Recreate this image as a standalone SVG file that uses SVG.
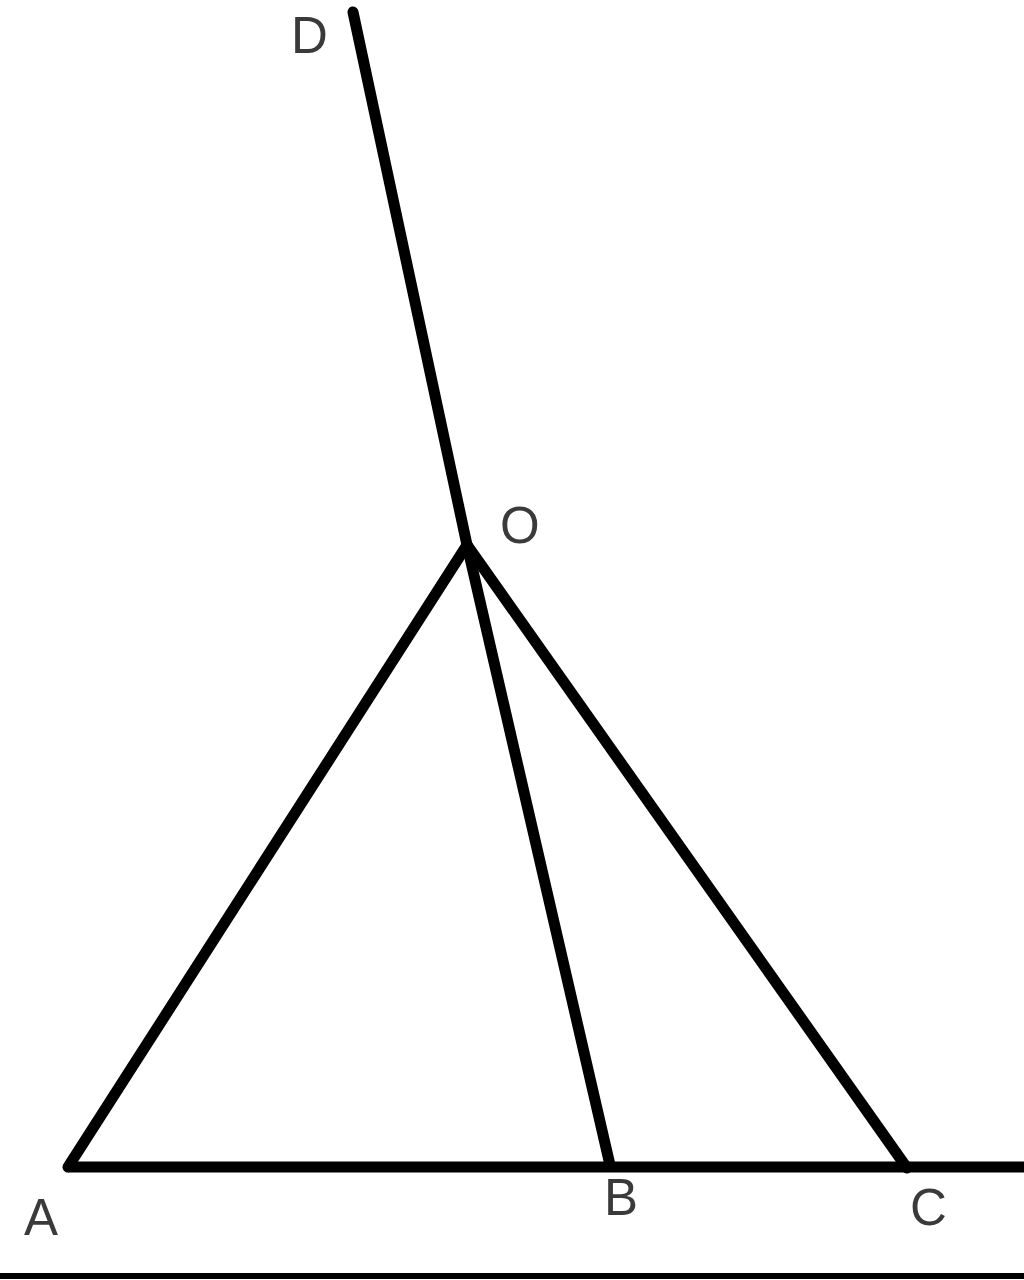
<svg xmlns="http://www.w3.org/2000/svg" width="1024" height="1280" viewBox="0 0 1024 1280">
<style>
.ln{stroke:#000;stroke-width:11;stroke-linecap:round;fill:none}
.lb{font-family:"Liberation Sans",Arial,sans-serif;font-size:51px;fill:#3a3a3a}
</style>
<rect width="1024" height="1280" fill="#fff"/>
<g id="connectors">
<line class="ln" x1="353" y1="12" x2="467" y2="545"/>
<line class="ln" x1="467" y1="545" x2="610" y2="1165"/>
<line class="ln" x1="467" y1="545" x2="68" y2="1167"/>
<line class="ln" x1="467" y1="545" x2="907" y2="1168"/>
<line class="ln" x1="68" y1="1167" x2="1030" y2="1167" style="stroke-linecap:butt"/>
<line x1="0" y1="1276" x2="1024" y2="1276" stroke="#000" stroke-width="6"/>
</g>
<g id="D"><text class="lb" x="291" y="53">D</text></g>
<g id="O"><text class="lb" x="500" y="543">O</text></g>
<g id="A"><text class="lb" x="24" y="1235">A</text></g>
<g id="B"><text class="lb" x="604" y="1215">B</text></g>
<g id="C"><text class="lb" x="910" y="1225">C</text></g>
</svg>
